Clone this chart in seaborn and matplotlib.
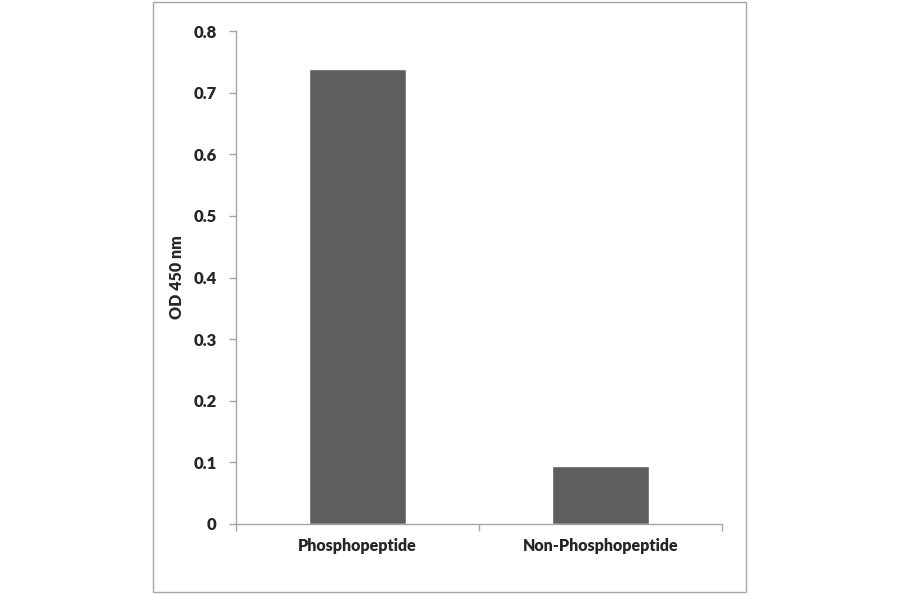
import matplotlib
matplotlib.use("Agg")
import matplotlib.pyplot as plt
import seaborn as sns
import pandas as pd

categories = ["Phosphopeptide", "Non-Phosphopeptide"]
od_values = [0.738, 0.094]
y_ticks = [0, 0.1, 0.2, 0.3, 0.4, 0.5, 0.6, 0.7, 0.8]
y_labels = ["0", "0.1", "0.2", "0.3", "0.4", "0.5", "0.6", "0.7", "0.8"]

sns.set_style("white")
plt.rcParams['font.family'] = ['Lato', 'DejaVu Sans']

df = pd.DataFrame({"sample": categories, "od": od_values})

fig = plt.figure(figsize=(9, 5.94), dpi=100)
# grey frame around the chart area
fig.patches.append(plt.Rectangle((153 / 900, 2 / 594), 593 / 900, 590 / 594,
                                 transform=fig.transFigure, fill=False,
                                 edgecolor="#a6a6a6", linewidth=1))
ax = fig.add_axes([236 / 900, 1 - 524 / 594, 486 / 900, 493 / 594])

sns.barplot(data=df, x="sample", y="od", color="#5f5f5f", width=0.4,
            saturation=1, ax=ax)

ax.set_xlim(-0.5, 1.5)
ax.set_ylim(0, 0.8)
ax.set_yticks(y_ticks)
ax.set_yticklabels(y_labels, fontsize=12, fontweight="heavy")

# category labels between boundary ticks
ax.set_xticks([-0.5, 0.5, 1.5])
ax.set_xticklabels(["", "", ""])
ax.set_xticks([0, 1], minor=True)
ax.set_xticklabels(categories, minor=True, fontsize=11.5, fontweight="heavy")
ax.tick_params(axis="x", which="minor", bottom=True, length=0, pad=10)
ax.tick_params(axis="x", which="major", bottom=True, length=5, width=1,
               color="#a6a6a6", direction="out")
ax.tick_params(axis="y", left=True, length=5, width=1, color="#a6a6a6",
               direction="out", pad=9)

ax.set_xlabel("")
ax.set_ylabel("OD 450 nm", fontsize=11.5, fontweight="heavy", labelpad=6)

for side in ["top", "right"]:
    ax.spines[side].set_visible(False)
for side in ["left", "bottom"]:
    ax.spines[side].set_color("#a6a6a6")
    ax.spines[side].set_linewidth(1)

fig.savefig("out.png", dpi=100)
